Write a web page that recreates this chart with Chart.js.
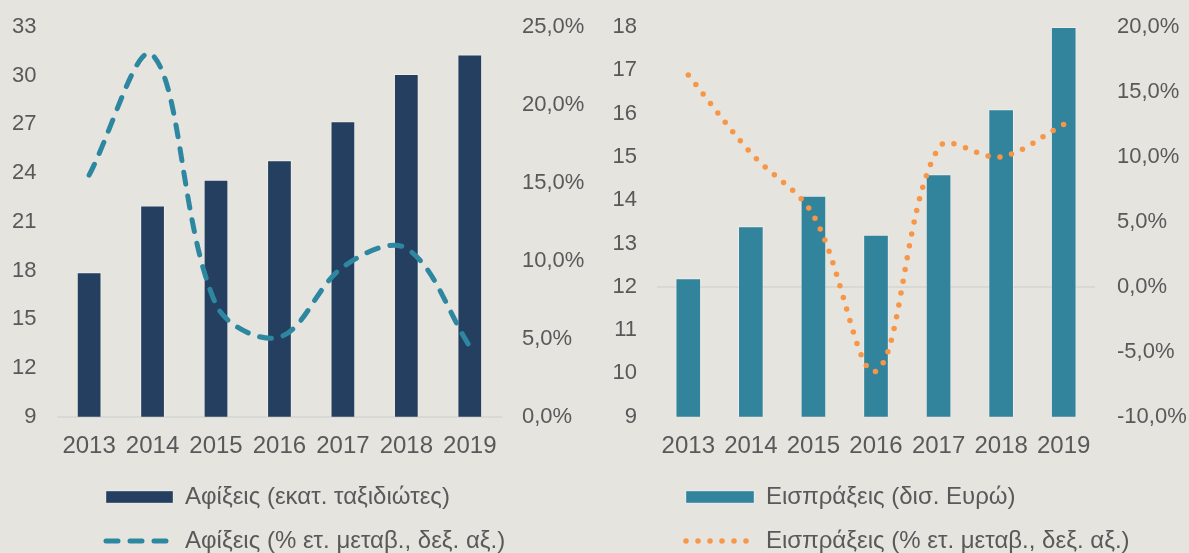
<!DOCTYPE html>
<html>
<head>
<meta charset="utf-8">
<script src="https://cdn.jsdelivr.net/npm/chart.js@4"></script>
<style>
  html, body { margin: 0; padding: 0; background: #e5e4df; }
  #wrap { position: relative; width: 1189px; height: 553px; overflow: hidden; }
  .box { position: absolute; top: 0; height: 553px; }
</style>
</head>
<body>
<div id="wrap">
  <div class="box" style="left:0;width:595px"><canvas id="arrivals"></canvas></div>
  <div class="box" style="left:595px;width:594px"><canvas id="receipts"></canvas></div>
</div>
<script>
const years = ["2013", "2014", "2015", "2016", "2017", "2018", "2019"];

// Αφίξεις
const arrivals = [17.9, 22.0, 23.6, 24.8, 27.2, 30.1, 31.3];
const arrivalsChange = [15.5, 23.2, 7.2, 5.1, 9.6, 10.8, 4.5];

// Εισπράξεις
const receipts = [12.2, 13.4, 14.1, 13.2, 14.6, 16.1, 18.0];
const receiptsChange = [16.3, 10.3, 5.5, -6.5, 10.7, 10.0, 12.5];

const textColor = "#595959";
const clear = "rgba(0,0,0,0)";
Chart.defaults.font.family = "'Liberation Sans', Arial, sans-serif";
Chart.defaults.font.size = 22;
Chart.defaults.color = textColor;

function pct(v) {
    return v.toFixed(1).replace(".", ",") + "%";
}

// put the legend rows where they are in the original
const legendOffset = {
    id: "legendOffset",
    afterLayout(chart, args, opts) {
        const lg = chart.legend;
        const pad = lg.options.labels.padding;
        const size = lg.options.labels.font.size;
        lg.left = opts.x - pad;
        const dy = opts.y - (lg.top + pad + size / 2);
        lg.top += dy;
        lg.bottom += dy;
    }
};

// keep dash pattern of the lines in the legend swatch
function legendLabels(chart) {
    return Chart.defaults.plugins.legend.labels.generateLabels(chart).map(item => {
        const ds = chart.data.datasets[item.datasetIndex];
        if (ds.type === "line") {
            item.lineDash = ds.borderDash;
            item.lineCap = "round";
            item.lineWidth = ds.borderWidth;
            item.strokeStyle = ds.borderColor;
        }
        return item;
    });
}

function makeChart(id, o) {
    return new Chart(document.getElementById(id), {
        data: {
            labels: years,
            datasets: [
                {
                    type: "bar",
                    label: o.barLabel,
                    data: o.bars,
                    backgroundColor: o.barColor,
                    borderColor: "rgba(255,255,255,0.35)",
                    borderWidth: 1,
                    barPercentage: o.barPct,
                    categoryPercentage: 1,
                    pointStyle: "rect",
                    order: 1,
                    yAxisID: "y"
                },
                {
                    type: "line",
                    label: o.lineLabel,
                    data: o.line,
                    borderColor: o.lineColor,
                    borderWidth: o.lineW,
                    borderDash: o.dash,
                    borderCapStyle: "round",
                    tension: 0.35,
                    pointRadius: 0,
                    pointStyle: "line",
                    fill: false,
                    order: 0,
                    yAxisID: "y1"
                }
            ]
        },
        options: {
            responsive: true,
            maintainAspectRatio: false,
            animation: false,
            layout: { padding: { top: 27, bottom: 0, left: 0, right: 0 } },
            plugins: {
                tooltip: { enabled: false },
                legendOffset: { x: o.legendX, y: 497 },
                legend: {
                    position: "bottom",
                    align: "start",
                    maxHeight: 89,
                    labels: {
                        usePointStyle: true,
                        pointStyleWidth: o.boxW,
                        boxHeight: 12,
                        padding: 20,
                        font: { size: 24 },
                        color: textColor,
                        generateLabels: legendLabels,
                        sort: (a, b) => a.datasetIndex - b.datasetIndex
                    }
                }
            },
            scales: {
                x: {
                    offset: true,
                    grid: { display: false, drawTicks: false },
                    border: { display: false },
                    ticks: { padding: 15, font: { size: 24 } },
                    afterFit: s => { s.height = 47.3; }
                },
                y: {
                    position: "left",
                    min: o.yMin,
                    max: o.yMax,
                    ticks: { stepSize: o.yStep, padding: 8 },
                    // invisible tick marks give the gap between labels and plot
                    grid: { display: false, drawTicks: true, tickLength: o.leftGap },
                    border: { display: false },
                    afterFit: s => { s.width = o.leftW; }
                },
                y1: {
                    position: "right",
                    min: o.pMin,
                    max: o.pMax,
                    z: 1,
                    ticks: { stepSize: 5, padding: 8, callback: pct },
                    grid: {
                        drawTicks: true,
                        tickLength: o.rightGap,
                        tickColor: clear,
                        lineWidth: 2,
                        color: c => (c.tick && c.tick.value === 0 ? "#d8d8d5" : clear)
                    },
                    border: { display: false },
                    afterFit: s => { s.width = o.rightW; }
                }
            }
        },
        plugins: [legendOffset]
    });
}

makeChart("arrivals", {
    barLabel: "Αφίξεις (εκατ. ταξιδιώτες)",
    lineLabel: "Αφίξεις (% ετ. μεταβ., δεξ. αξ.)",
    bars: arrivals,
    line: arrivalsChange,
    barColor: "#243f60",
    lineColor: "#2e87a0",
    lineW: 5,
    dash: [12, 12],
    barPct: 0.39,
    yMin: 9, yMax: 33, yStep: 3,
    pMin: 0, pMax: 25,
    leftW: 57.4, leftGap: 13,
    rightW: 93.5, rightGap: 12.5,
    legendX: 106,
    boxW: 67
});

makeChart("receipts", {
    barLabel: "Εισπράξεις (δισ. Ευρώ)",
    lineLabel: "Εισπράξεις (% ετ. μεταβ., δεξ. αξ.)",
    bars: receipts,
    line: receiptsChange,
    barColor: "#31849c",
    lineColor: "#f79646",
    lineW: 5.5,
    dash: [0, 12],
    barPct: 0.41,
    yMin: 9, yMax: 18, yStep: 1,
    pMin: -10, pMax: 20,
    leftW: 62, leftGap: 12,
    rightW: 94, rightGap: 14,
    legendX: 91,
    boxW: 68
});
</script>
</body>
</html>
